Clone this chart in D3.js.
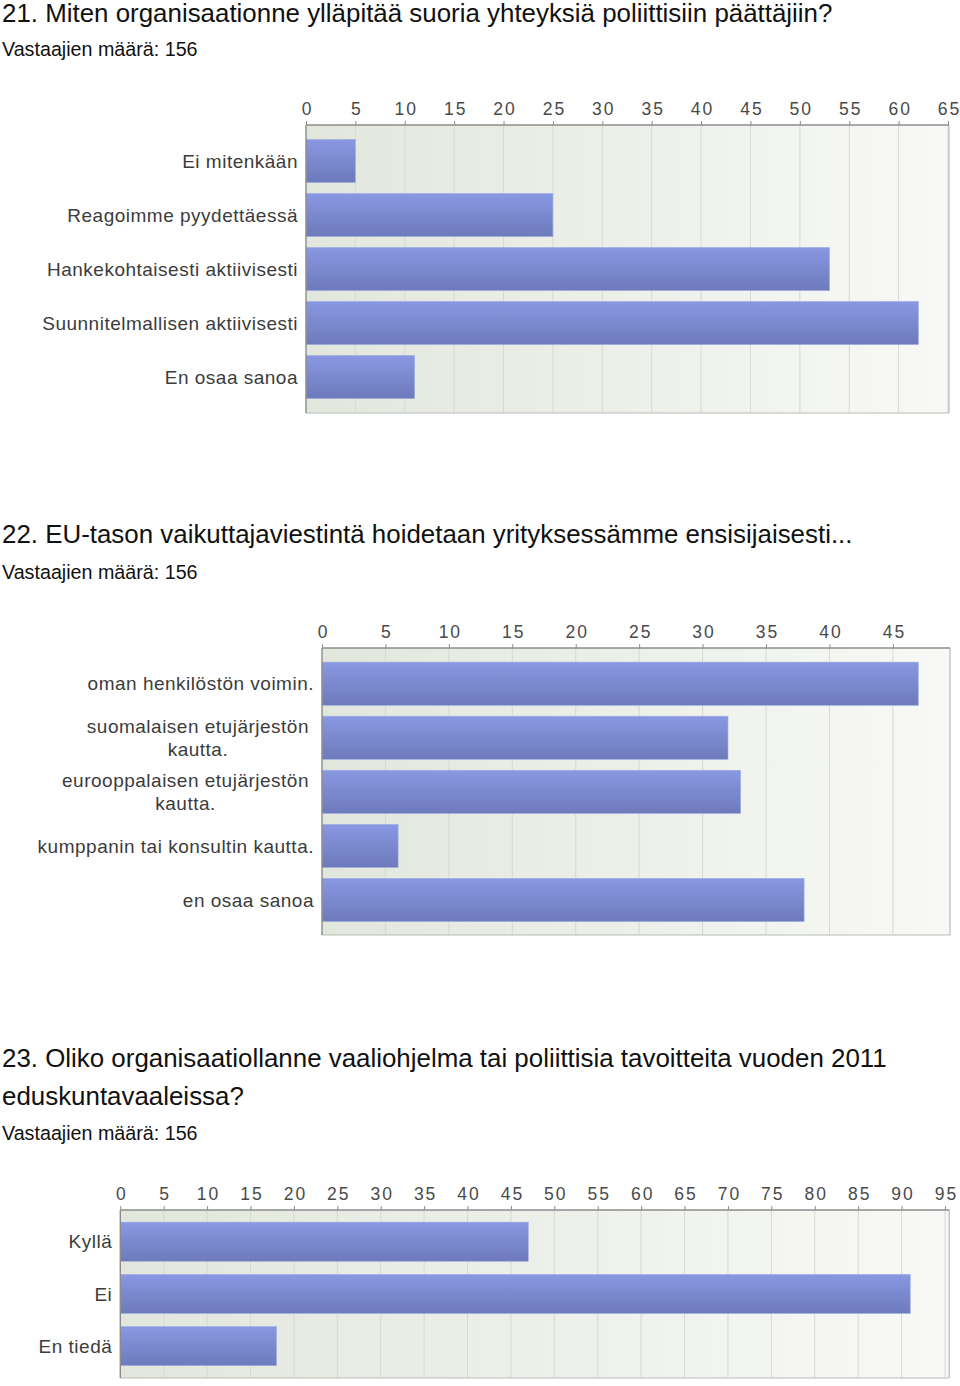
<!DOCTYPE html>
<html>
<head>
<meta charset="utf-8">
<script src="https://cdn.jsdelivr.net/npm/d3@7.9.0/dist/d3.min.js"></script>
<style>
  body { margin: 0; background: #fff; }
  svg { display: block; }
  .title { font-family: 'Liberation Sans', Arial, sans-serif; font-size: 25.9px; fill: #111; }
  .sub { font-family: 'Liberation Sans', Arial, sans-serif; font-size: 19.7px; fill: #111; }
  .cat { font-family: 'Liberation Sans', Arial, sans-serif; font-size: 19px; letter-spacing: 0.5px; fill: #3c3c3c; }
  .tick-label { font-family: 'Liberation Sans', Arial, sans-serif; font-size: 17.5px; letter-spacing: 2px; fill: #4a4a4a; }
</style>
</head>
<body>
<svg id="chart" width="960" height="1386"></svg>
<script>
// Data
const q21Categories = ['Ei mitenkään', 'Reagoimme pyydettäessä', 'Hankekohtaisesti aktiivisesti', 'Suunnitelmallisen aktiivisesti', 'En osaa sanoa'];
const q21Values = [5, 25, 53, 62, 11];
const q21Ticks = d3.range(0, 66, 5);

const q22Categories = [
  ['oman henkilöstön voimin.'],
  ['suomalaisen etujärjestön', 'kautta.'],
  ['eurooppalaisen etujärjestön', 'kautta.'],
  ['kumppanin tai konsultin kautta.'],
  ['en osaa sanoa']
];
const q22Values = [47, 32, 33, 6, 38];
const q22Ticks = d3.range(0, 46, 5);

const q23Categories = ['Kyllä', 'Ei', 'En tiedä'];
const q23Values = [47, 91, 18];
const q23Ticks = d3.range(0, 96, 5);

const titles = [
  { lines: ['21. Miten organisaationne ylläpitää suoria yhteyksiä poliittisiin päättäjiin?'], y: 21.7, sub: 55.7 },
  { lines: ['22. EU-tason vaikuttajaviestintä hoidetaan yrityksessämme ensisijaisesti...'], y: 543.3, sub: 579.3 },
  { lines: ['23. Oliko organisaatiollanne vaaliohjelma tai poliittisia tavoitteita vuoden 2011', 'eduskuntavaaleissa?'], y: 1066.7, sub: 1140 }
];

const svg = d3.select('#chart');
const defs = svg.append('defs');

// background gradient of plot area
const bg = defs.append('linearGradient').attr('id', 'bg').attr('x1', 0).attr('x2', 1).attr('y1', 0).attr('y2', 0);
bg.append('stop').attr('offset', '0%').attr('stop-color', '#e2e7dd');
bg.append('stop').attr('offset', '100%').attr('stop-color', '#f8f9f6');

// bar gradient
const barGrad = defs.append('linearGradient').attr('id', 'bar').attr('x1', 0).attr('x2', 0).attr('y1', 0).attr('y2', 1);
barGrad.append('stop').attr('offset', '0%').attr('stop-color', '#8898e2');
barGrad.append('stop').attr('offset', '100%').attr('stop-color', '#6d7abb');

// titles
titles.forEach((t) => {
  t.lines.forEach((line, i) => {
    svg.append('text').attr('class', 'title').attr('x', 2).attr('y', t.y + i * 38.3).text(line);
  });
  svg.append('text').attr('class', 'sub').attr('x', 2).attr('y', t.sub).text('Vastaajien määrä: 156');
});

function drawChart(cats, values, ticks, box) {
  const g = svg.append('g');

  const x = d3.scaleLinear().domain([0, box.max]).range([box.left, box.right]);
  const y = d3.scaleBand().domain(d3.range(values.length)).range([box.bandTop, box.bandBottom]).paddingInner(box.pad).paddingOuter(box.pad / 2);

  // plot background
  g.append('rect')
    .attr('x', box.left).attr('y', box.top)
    .attr('width', box.right - box.left).attr('height', box.bottom - box.top)
    .attr('fill', 'url(#bg)');

  // grid lines
  g.selectAll('.grid')
    .data(ticks.filter((d) => d > 0))
    .join('line')
    .attr('x1', (d) => x(d)).attr('x2', (d) => x(d))
    .attr('y1', box.top).attr('y2', box.bottom)
    .attr('stroke', '#d6dad2').attr('stroke-width', 1);

  // bars
  g.selectAll('.bar')
    .data(values)
    .join('rect')
    .attr('x', x(0))
    .attr('y', (d, i) => y(i))
    .attr('width', (d) => x(d) - x(0))
    .attr('height', y.bandwidth())
    .attr('fill', 'url(#bar)')
    .attr('stroke', '#a3afe6')
    .attr('stroke-width', 0.6);

  // frame: right and bottom lighter
  g.append('line').attr('x1', box.right).attr('x2', box.right).attr('y1', box.top).attr('y2', box.bottom).attr('stroke', '#b9bbb7').attr('stroke-width', 1.2);
  g.append('line').attr('x1', box.left).attr('x2', box.right).attr('y1', box.bottom).attr('y2', box.bottom).attr('stroke', '#b9bbb7').attr('stroke-width', 1.2);
  g.append('line').attr('x1', box.left).attr('x2', box.left).attr('y1', box.top).attr('y2', box.bottom).attr('stroke', '#8c8c8c').attr('stroke-width', 1.4);

  // top axis
  const axis = d3.axisTop(x).tickValues(ticks).tickSize(4).tickPadding(6).tickFormat(d3.format('d'));
  const ax = g.append('g').attr('transform', `translate(0,${box.top})`).call(axis);
  ax.select('.domain').attr('d', `M${box.left},0H${box.right}`).attr('stroke', '#8c8c8c').attr('stroke-width', 1.4);
  ax.selectAll('.tick line').attr('stroke', '#8c8c8c');
  ax.selectAll('.tick text')
    .attr('class', 'tick-label')
    .attr('font-family', null).attr('font-size', null)
    .attr('fill', null)
    .attr('dx', 1);

  // category labels
  cats.forEach((c, i) => {
    const lines = Array.isArray(c) ? c : [c];
    const cy = y(i) + y.bandwidth() / 2;
    if (lines.length === 1) {
      g.append('text').attr('class', 'cat')
        .attr('x', box.left - 8).attr('y', cy).attr('dy', '0.35em')
        .attr('text-anchor', 'end').text(lines[0]);
    } else {
      const t = g.append('text').attr('class', 'cat').attr('text-anchor', 'middle');
      const spans = lines.map((l, k) =>
        t.append('tspan').attr('y', cy + (k - (lines.length - 1) / 2) * 22.6).attr('dy', '0.35em').text(l)
      );
      const w = d3.max(spans, (s) => s.node().getComputedTextLength());
      const cx = box.left - 13 - w / 2;
      spans.forEach((s) => s.attr('x', cx));
    }
  });
}

drawChart(q21Categories, q21Values, q21Ticks,
  { left: 306, right: 949, max: 65.1, top: 125, bottom: 413, bandTop: 134, bandBottom: 404, pad: 0.2 });
drawChart(q22Categories, q22Values, q22Ticks,
  { left: 322, right: 950, max: 49.5, top: 648, bottom: 935, bandTop: 656.7, bandBottom: 927, pad: 0.2 });
drawChart(q23Categories, q23Values, q23Ticks,
  { left: 120.3, right: 949.3, max: 95.5, top: 1210, bottom: 1378, bandTop: 1215.6, bandBottom: 1372.2, pad: 0.25 });
</script>
</body>
</html>
